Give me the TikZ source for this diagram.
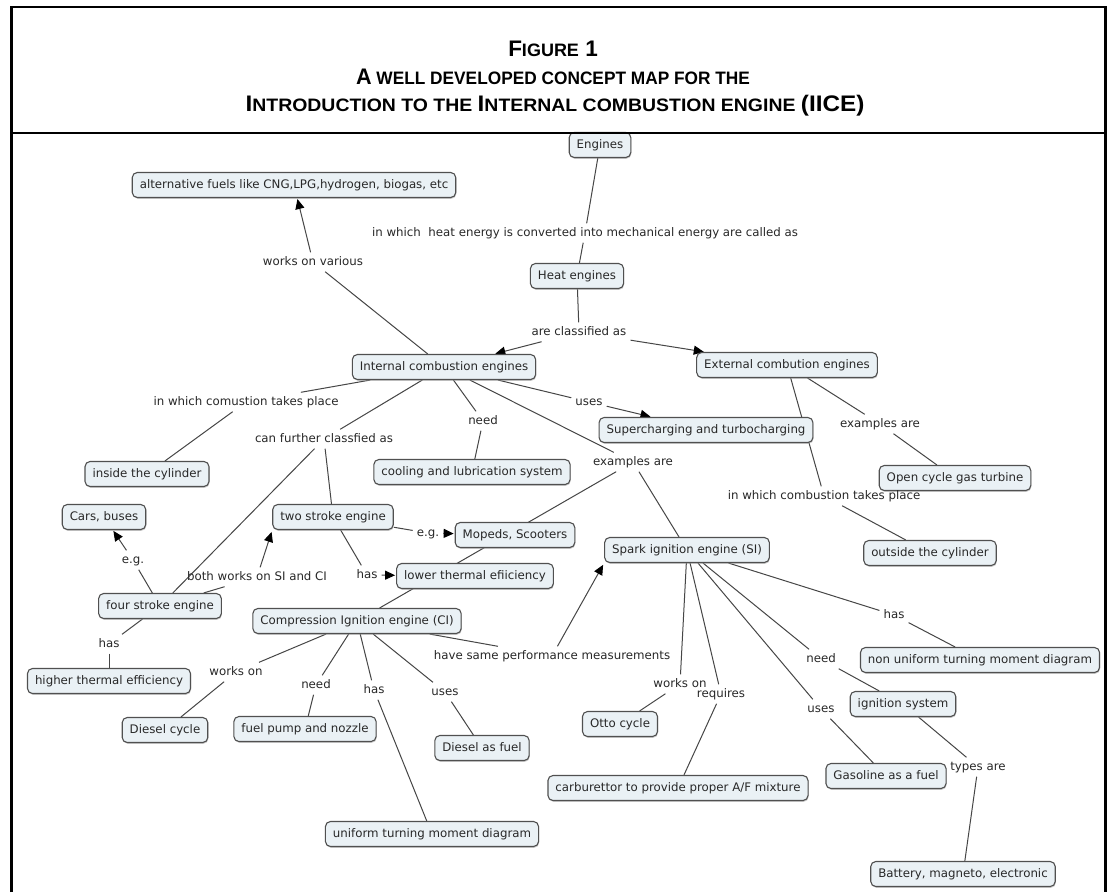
\documentclass[tikz,border=0pt]{standalone}
\usepackage{graphicx}
\usepackage{fontspec}
\setmainfont{DejaVu Sans}
\newfontfamily\titlefont{Liberation Sans}
\usetikzlibrary{arrows.meta,shadows,backgrounds}
\definecolor{boxfill}{RGB}{234,241,245}
\definecolor{boxline}{RGB}{80,80,80}
\definecolor{txt}{RGB}{40,40,40}
\definecolor{lnk}{RGB}{70,70,70}
\newcommand{\smc}[1]{{\fontsize{18}{20}\selectfont #1}}
\begin{document}
\begin{tikzpicture}[x=1pt,y=-1pt,
  font=\fontsize{11.8}{13}\selectfont,
  concept/.style={draw=boxline, fill=boxfill, rounded corners=5pt, line width=1.1pt,
    inner xsep=7.5pt, inner ysep=7pt, text height=8.5pt, text depth=2.5pt, text=txt,
    drop shadow={shadow xshift=0.6pt, shadow yshift=-1.3pt, fill=black!40}},
  phrase/.style={inner sep=4pt, text height=8.5pt, text depth=2.5pt, text=txt},
  link/.style={draw=lnk, line width=1pt},
  arr/.style={link, -{Triangle[length=10pt,width=9pt,color=black]}, shorten >=1pt},
  frameline/.style={line width=2.8pt, black},
  titletext/.style={anchor=base, font=\titlefont\bfseries\fontsize{22.5}{26}\selectfont},
]
\useasboundingbox (0,0) rectangle (1107,892);

% title
\node[titletext] (t1) at (553,56) {F\smc{IGURE} 1};
\node[titletext] (t2) at (553,84) {\scalebox{0.96}[1]{A\smc{ WELL DEVELOPED CONCEPT MAP FOR THE}}};
\node[titletext] (t3) at (555,111) {\scalebox{1.08}[1]{I\smc{NTRODUCTION TO THE }I\smc{NTERNAL COMBUSTION ENGINE }(IICE)}};

% concepts
\node[concept] (eng) at (600,145) {Engines};
\node[concept] (alt) at (294,185) {alternative fuels like CNG,LPG,hydrogen, biogas, etc};
\node[concept] (heat) at (577,276) {Heat engines};
\node[concept] (ice) at (444,367) {Internal combustion engines};
\node[concept] (ece) at (787,365) {External combution engines};
\node[concept] (inside) at (147,474) {inside the cylinder};
\node[concept] (cool) at (472,472) {cooling and lubrication system};
\node[concept] (super) at (706,430) {Supercharging and turbocharging};
\node[concept] (open) at (955,478) {Open cycle gas turbine};
\node[concept] (cars) at (104,517) {Cars, buses};
\node[concept] (two) at (333,517) {two stroke engine};
\node[concept] (mop) at (515,535) {Mopeds, Scooters};
\node[concept] (si) at (687,550) {Spark ignition engine (SI)};
\node[concept] (outside) at (930,553) {outside the cylinder};
\node[concept] (lower) at (475,576) {lower thermal efiiciency};
\node[concept] (four) at (160,606) {four stroke engine};
\node[concept] (ci) at (357,621) {Compression Ignition engine (CI)};
\node[concept] (nonu) at (980,660) {non uniform turning moment diagram};
\node[concept] (higher) at (109,681) {higher thermal efficiency};
\node[concept] (ign) at (903,704) {ignition system};
\node[concept] (dcyc) at (165,730) {Diesel cycle};
\node[concept] (pump) at (305,729) {fuel pump and nozzle};
\node[concept] (dfuel) at (482,748) {Diesel as fuel};
\node[concept] (otto) at (620,724) {Otto cycle};
\node[concept] (gas) at (886,776) {Gasoline as a fuel};
\node[concept] (carb) at (678,788) {carburettor to provide proper A/F mixture};
\node[concept] (unif) at (432,834) {uniform turning moment diagram};
\node[concept] (batt) at (963,874) {Battery, magneto, electronic};

% linking phrases
\node[phrase] (lheat) at (585,233) {in which\ \ heat energy is converted into mechanical energy are called as};
\node[phrase] (lwork) at (313,262) {works on various};
\node[phrase] (lclass) at (579,332) {are classified as};
\node[phrase] (linside) at (246,402) {in which comustion takes place};
\node[phrase] (luses) at (589,402) {uses};
\node[phrase] (lneed) at (483,421) {need};
\node[phrase] (lexr) at (880,424) {examples are};
\node[phrase] (lfurther) at (324,439) {can further classfied as};
\node[phrase] (lexm) at (633,462) {examples are};
\node[phrase] (lcomb) at (824,496) {in which combustion takes place};
\node[phrase] (leg2) at (428,533) {e.g.};
\node[phrase] (leg4) at (133,560) {e.g.};
\node[phrase] (lhas2) at (367,575) {has};
\node[phrase] (lboth) at (257,577) {both works on SI and CI};
\node[phrase] (lhassi) at (894,615) {has};
\node[phrase] (lhas4) at (109,644) {has};
\node[phrase] (lsame) at (552,656) {have same performance measurements};
\node[phrase] (lneedsi) at (821,659) {need};
\node[phrase] (lworkci) at (236,672) {works on};
\node[phrase] (lneedci) at (316,685) {need};
\node[phrase] (lhasci) at (374,690) {has};
\node[phrase] (lusesci) at (445,692) {uses};
\node[phrase] (lworksi) at (680,684) {works on};
\node[phrase] (lreq) at (721,694) {requires};
\node[phrase] (lusessi) at (821,709) {uses};
\node[phrase] (ltypes) at (978,767) {types are};

\begin{pgfonlayer}{background}
\fill[white] (0,0) rectangle (1107,892);
\draw[link] (eng) -- (lheat);
\draw[link] (lheat) -- (heat);
\draw[link] (heat) -- (lclass);
\draw[arr] (lclass) -- (ice);
\draw[arr] (lclass) -- (ece);
\draw[link] (ice) -- (lwork);
\draw[arr] (lwork) -- (alt);
\draw[link] (ice) -- (linside);
\draw[link] (linside) -- (inside);
\draw[link] (ice) -- (lfurther);
\draw[link] (lfurther) -- (four);
\draw[link] (lfurther) -- (two);
\draw[link] (ice) -- (lneed);
\draw[link] (lneed) -- (cool);
\draw[link] (ice) -- (luses);
\draw[arr] (luses) -- (super);
\draw[link] (ice) -- (lexm);
\draw[link] (lexm) -- (si);
\draw[link] (lexm) -- (ci);
\draw[link] (ece) -- (lexr);
\draw[link] (lexr) -- (open);
\draw[link] (ece) -- (lcomb);
\draw[link] (lcomb) -- (outside);
\draw[link] (four) -- (leg4);
\draw[arr] (leg4) -- (cars);
\draw[link] (four) -- (lboth);
\draw[arr, shorten >=2pt] (lboth) -- (two.south west);
\draw[link] (four) -- (lhas4);
\draw[link] (lhas4) -- (higher);
\draw[link] (two) -- (leg2);
\draw[arr] (leg2) -- (mop);
\draw[link] (two) -- (lhas2);
\draw[arr] (lhas2) -- (lower);
\draw[link] (ci) -- (lworkci);
\draw[link] (lworkci) -- (dcyc);
\draw[link] (ci) -- (lneedci);
\draw[link] (lneedci) -- (pump);
\draw[link] (ci) -- (lhasci);
\draw[link] (lhasci) -- (unif);
\draw[link] (ci) -- (lusesci);
\draw[link] (lusesci) -- (dfuel);
\draw[link] (ci) -- (lsame);
\draw[arr, shorten >=2pt] (lsame) -- (si.south west);
\draw[link] (si) -- (lworksi);
\draw[link] (lworksi) -- (otto);
\draw[link] (si) -- (lreq);
\draw[link] (lreq) -- (carb);
\draw[link] (si) -- (lusessi);
\draw[link] (lusessi) -- (gas);
\draw[link] (si) -- (lneedsi);
\draw[link] (lneedsi) -- (ign);
\draw[link] (si) -- (lhassi);
\draw[link] (lhassi) -- (nonu);
\draw[link] (ign) -- (ltypes);
\draw[link] (ltypes) -- (batt);
\end{pgfonlayer}

% frame
\draw[frameline] (11.5,892) -- (11.5,7) -- (1107,7);
\draw[frameline] (11.5,133) -- (1107,133);
\draw[frameline] (1105.6,7) -- (1105.6,892);
\end{tikzpicture}
\end{document}
